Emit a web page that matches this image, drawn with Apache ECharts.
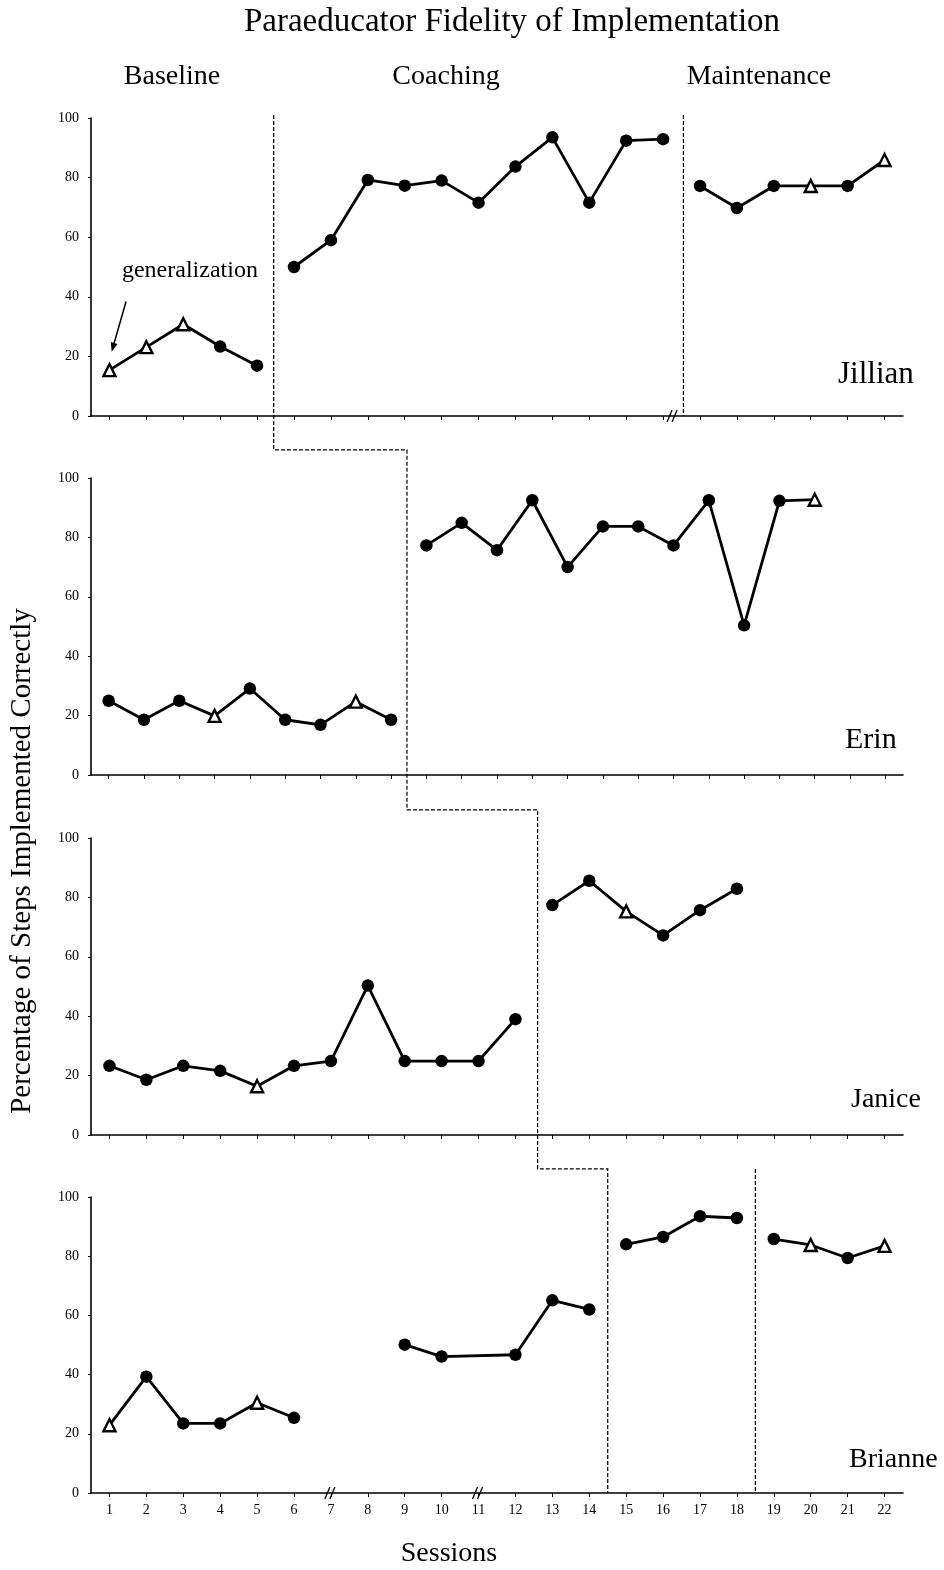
<!DOCTYPE html>
<html><head><meta charset="utf-8">
<script src="https://cdn.jsdelivr.net/npm/echarts@6/dist/echarts.min.js"></script>
<style>html,body{margin:0;padding:0;background:#fff}#c{width:944px;height:1570px}</style>
</head><body><div id="c"></div>
<script>
// ---------- texts ----------
const chartTitle = 'Paraeducator Fidelity of Implementation';
const phaseNames = ['Baseline', 'Coaching', 'Maintenance'];
const participants = ['Jillian', 'Erin', 'Janice', 'Brianne'];
const yAxisTitle = 'Percentage of Steps Implemented Correctly';
const xAxisTitle = 'Sessions';
const noteText = 'generalization';

// ---------- axes ----------
const sessionLabels22 = ['1','2','3','4','5','6','7','8','9','10','11','12','13','14','15','16','17','18','19','20','21','22'];
const sessionLabels23 = ['1','2','3','4','5','6','7','8','9','10','11','12','13','14','15','16','17','18','19','20','21','22','23'];
const yTicks = [0, 20, 40, 60, 80, 100];

// ---------- data (session, value, generalization flag) ----------
// Jillian
const jilBaseS = [1, 2, 3, 4, 5];
const jilBaseV = [15.4, 23.1, 30.8, 23.3, 16.9];
const jilBaseG = [1, 1, 1, 0, 0];
const jilCoachS = [6, 7, 8, 9, 10, 11, 12, 13, 14, 15, 16];
const jilCoachV = [50, 59, 79.2, 77.3, 79, 71.6, 83.7, 93.5, 71.6, 92.4, 92.9];
const jilCoachG = [0, 0, 0, 0, 0, 0, 0, 0, 0, 0, 0];
const jilMaintS = [17, 18, 19, 20, 21, 22];
const jilMaintV = [77.2, 69.8, 77.2, 77.2, 77.2, 85.9];
const jilMaintG = [0, 0, 0, 1, 0, 1];
// Erin
const erinBaseS = [1, 2, 3, 4, 5, 6, 7, 8, 9];
const erinBaseV = [25, 18.6, 25, 19.9, 29.1, 18.6, 16.9, 24.7, 18.6];
const erinBaseG = [0, 0, 0, 1, 0, 0, 0, 1, 0];
const erinCoachS = [10, 11, 12, 13, 14, 15, 16, 17, 18, 19, 20, 21];
const erinCoachV = [77.3, 84.9, 75.7, 92.5, 70.0, 83.7, 83.7, 77.3, 92.5, 50.4, 92.3, 92.7];
const erinCoachG = [0, 0, 0, 0, 0, 0, 0, 0, 0, 0, 0, 1];
// Janice
const janBaseS = [1, 2, 3, 4, 5, 6, 7, 8, 9, 10, 11, 12];
const janBaseV = [23.3, 18.6, 23.3, 21.6, 16.4, 23.3, 24.9, 50.3, 24.9, 24.9, 24.9, 39.0];
const janBaseG = [0, 0, 0, 0, 1, 0, 0, 0, 0, 0, 0, 0];
const janCoachS = [13, 14, 15, 16, 17, 18];
const janCoachV = [77.4, 85.6, 75.3, 67.2, 75.7, 82.9];
const janCoachG = [0, 0, 1, 0, 0, 0];
// Brianne
const briBaseS = [1, 2, 3, 4, 5, 6];
const briBaseV = [22.9, 39.3, 23.5, 23.5, 30.5, 25.4];
const briBaseG = [1, 0, 0, 0, 1, 0];
const briCoachS = [9, 10, 12, 13, 14];
const briCoachV = [50.1, 46.1, 46.7, 65.1, 62.0];
const briCoachG = [0, 0, 0, 0, 0];
const briCoach2S = [15, 16, 17, 18];
const briCoach2V = [84.0, 86.5, 93.5, 92.9];
const briCoach2G = [0, 0, 0, 0];
const briMaintS = [19, 20, 21, 22];
const briMaintV = [85.8, 83.8, 79.4, 83.5];
const briMaintG = [0, 1, 0, 1];

// phase change positions (in session units of each panel)
const phaseX = [5.45, 9.45, 12.6, 14.5];   // staircase: Jillian, Erin, Janice, Brianne
const jilMaintX = 16.55;
const briMaintX = 18.5;
// axis breaks
const jilBreaks = [16.27];
const briBreaks = [7, 11];
// generalization arrow (Jillian panel): start, end in [session, value]
const arrowFrom = [1.45, 38.4];
const arrowTo = [1.06, 21.6];
const notePos = [3.18, 48.7];

// ---------- layout ----------
const FONT = '"Liberation Serif", "Times New Roman", serif';
const grids = [
  { left: 91, width: 812, top: 118, height: 298 },
  { left: 91, width: 812, top: 478, height: 297 },
  { left: 91, width: 812, top: 838, height: 297 },
  { left: 91, width: 812, top: 1197, height: 296 }
];
const catsPerPanel = [sessionLabels22, sessionLabels23, sessionLabels22, sessionLabels22];

const chart = echarts.init(document.getElementById('c'), null, { renderer: 'canvas' });

function mkSeries(g, S, V, G) {
  return {
    type: 'line', xAxisIndex: g, yAxisIndex: g, showAllSymbol: true, silent: true,
    animation: false, z: 3,
    lineStyle: { color: '#000', width: 2.8 },
    data: S.map((s, i) => ({
      value: [s - 1, V[i]],
      symbol: G[i] ? 'triangle' : 'circle',
      symbolSize: G[i] ? 12 : 12.5,
      itemStyle: G[i] ? { color: '#fff', borderColor: '#000', borderWidth: 2.4 } : { color: '#000', borderWidth: 0 }
    }))
  };
}

const xAxes = [];
grids.forEach((gr, g) => {
  xAxes.push({
    type: 'category', gridIndex: g, data: catsPerPanel[g], boundaryGap: true,
    axisLine: { show: true, lineStyle: { color: '#000', width: 1.6 } },
    axisTick: { show: true, alignWithLabel: true, interval: 0, length: 4, lineStyle: { color: '#000', width: 1 } },
    axisLabel: { show: g === 3, interval: 0, fontSize: 14, color: '#000', fontFamily: FONT, margin: 10 },
    splitLine: { show: false }
  });
});
grids.forEach((gr, g) => {
  xAxes.push({ type: 'value', gridIndex: g, min: 0.5, max: catsPerPanel[g].length + 0.5, show: false });
});
const yAxes = grids.map((gr, g) => ({
  type: 'value', gridIndex: g, min: yTicks[0], max: yTicks[yTicks.length - 1], interval: 20,
  axisLine: { show: true, lineStyle: { color: '#000', width: 1.6 } },
  axisTick: { show: true, length: 3, lineStyle: { color: '#000', width: 1 } },
  axisLabel: { fontSize: 14, color: '#000', fontFamily: FONT, margin: 12 },
  splitLine: { show: false }
}));

const series = [
  mkSeries(0, jilBaseS, jilBaseV, jilBaseG),
  mkSeries(0, jilCoachS, jilCoachV, jilCoachG),
  mkSeries(0, jilMaintS, jilMaintV, jilMaintG),
  mkSeries(1, erinBaseS, erinBaseV, erinBaseG),
  mkSeries(1, erinCoachS, erinCoachV, erinCoachG),
  mkSeries(2, janBaseS, janBaseV, janBaseG),
  mkSeries(2, janCoachS, janCoachV, janCoachG),
  mkSeries(3, briBaseS, briBaseV, briBaseG),
  mkSeries(3, briCoachS, briCoachV, briCoachG),
  mkSeries(3, briCoach2S, briCoach2V, briCoach2G),
  mkSeries(3, briMaintS, briMaintV, briMaintG)
];

chart.setOption({
  animation: false,
  backgroundColor: '#fff',
  grid: grids.map(g => Object.assign({ containLabel: false }, g)),
  xAxis: xAxes,
  yAxis: yAxes,
  series: series
});

// ---------- overlays via library scales ----------
const px = (g, v) => chart.convertToPixel({ xAxisIndex: 4 + g }, v);
const py = (g, v) => chart.convertToPixel({ yAxisIndex: g }, v);
const dash = { stroke: '#000', lineWidth: 1.2, lineDash: [4, 2], fill: null };

const stair = [
  [px(0, phaseX[0]), py(0, 101)],
  [px(0, phaseX[0]), py(1, 109.5)],
  [px(1, phaseX[1]), py(1, 109.5)],
  [px(1, phaseX[1]), py(2, 109.5)],
  [px(2, phaseX[2]), py(2, 109.5)],
  [px(2, phaseX[2]), py(3, 109.5)],
  [px(3, phaseX[3]), py(3, 109.5)],
  [px(3, phaseX[3]), py(3, 0)]
];
const graphics = [];
graphics.push({ type: 'polyline', shape: { points: stair }, style: dash, z: 10 });
graphics.push({ type: 'line', shape: { x1: px(0, jilMaintX), y1: py(0, 101), x2: px(0, jilMaintX), y2: py(0, 0) }, style: dash, z: 10 });
graphics.push({ type: 'line', shape: { x1: px(3, briMaintX), y1: py(3, 109.5), x2: px(3, briMaintX), y2: py(3, 0) }, style: dash, z: 10 });

function breakMark(g, s) {
  const x = px(g, s), y = py(g, 0);
  [-3, 2].forEach(o => {
    graphics.push({ type: 'line', shape: { x1: x + o - 3, y1: y + 6, x2: x + o + 2, y2: y - 6 }, style: { stroke: '#000', lineWidth: 1.3 }, z: 11 });
  });
}
jilBreaks.forEach(s => breakMark(0, s));
briBreaks.forEach(s => breakMark(3, s));

// arrow
(function () {
  const x1 = px(0, arrowFrom[0]), y1 = py(0, arrowFrom[1]);
  const x2 = px(0, arrowTo[0]), y2 = py(0, arrowTo[1]);
  const dx = x2 - x1, dy = y2 - y1, L = Math.hypot(dx, dy), ux = dx / L, uy = dy / L;
  const hl = 9, hw = 3.5;
  const bx = x2 - ux * hl, by = y2 - uy * hl;
  graphics.push({ type: 'line', shape: { x1: x1, y1: y1, x2: bx, y2: by }, style: { stroke: '#000', lineWidth: 1.5 }, z: 11 });
  graphics.push({ type: 'polygon', shape: { points: [[x2, y2], [bx - uy * hw, by + ux * hw], [bx + uy * hw, by - ux * hw]] }, style: { fill: '#000' }, z: 11 });
  graphics.push({ type: 'text', x: px(0, notePos[0]), y: py(0, notePos[1]), style: { text: noteText, font: '24px ' + FONT, fill: '#000', align: 'center', verticalAlign: 'middle', textAlign: 'center', textVerticalAlign: 'middle' }, z: 11 });
})();

function txt(text, x, y, size, align, rot) {
  const o = { type: 'text', x: x, y: y, style: { text: text, font: size + 'px ' + FONT, fill: '#000', align: align || 'center', verticalAlign: 'middle', textAlign: align || 'center', textVerticalAlign: 'middle' }, z: 12 };
  if (rot) o.rotation = rot;
  return o;
}
graphics.push(txt(chartTitle, 512, 22, 33));
graphics.push(txt(phaseNames[0], 172, 77, 28));
graphics.push(txt(phaseNames[1], 446, 77, 28));
graphics.push(txt(phaseNames[2], 759, 77, 28));
graphics.push(txt(participants[0], 838, 375, 31, 'left'));
graphics.push(txt(participants[1], 845, 740, 30, 'left'));
graphics.push(txt(participants[2], 851, 1100, 28, 'left'));
graphics.push(txt(participants[3], 849, 1460, 28, 'left'));
graphics.push(txt(yAxisTitle, 22, 861, 29, 'center', Math.PI / 2));
graphics.push(txt(xAxisTitle, 449, 1554, 28));

chart.setOption({ graphic: graphics });
</script></body></html>
